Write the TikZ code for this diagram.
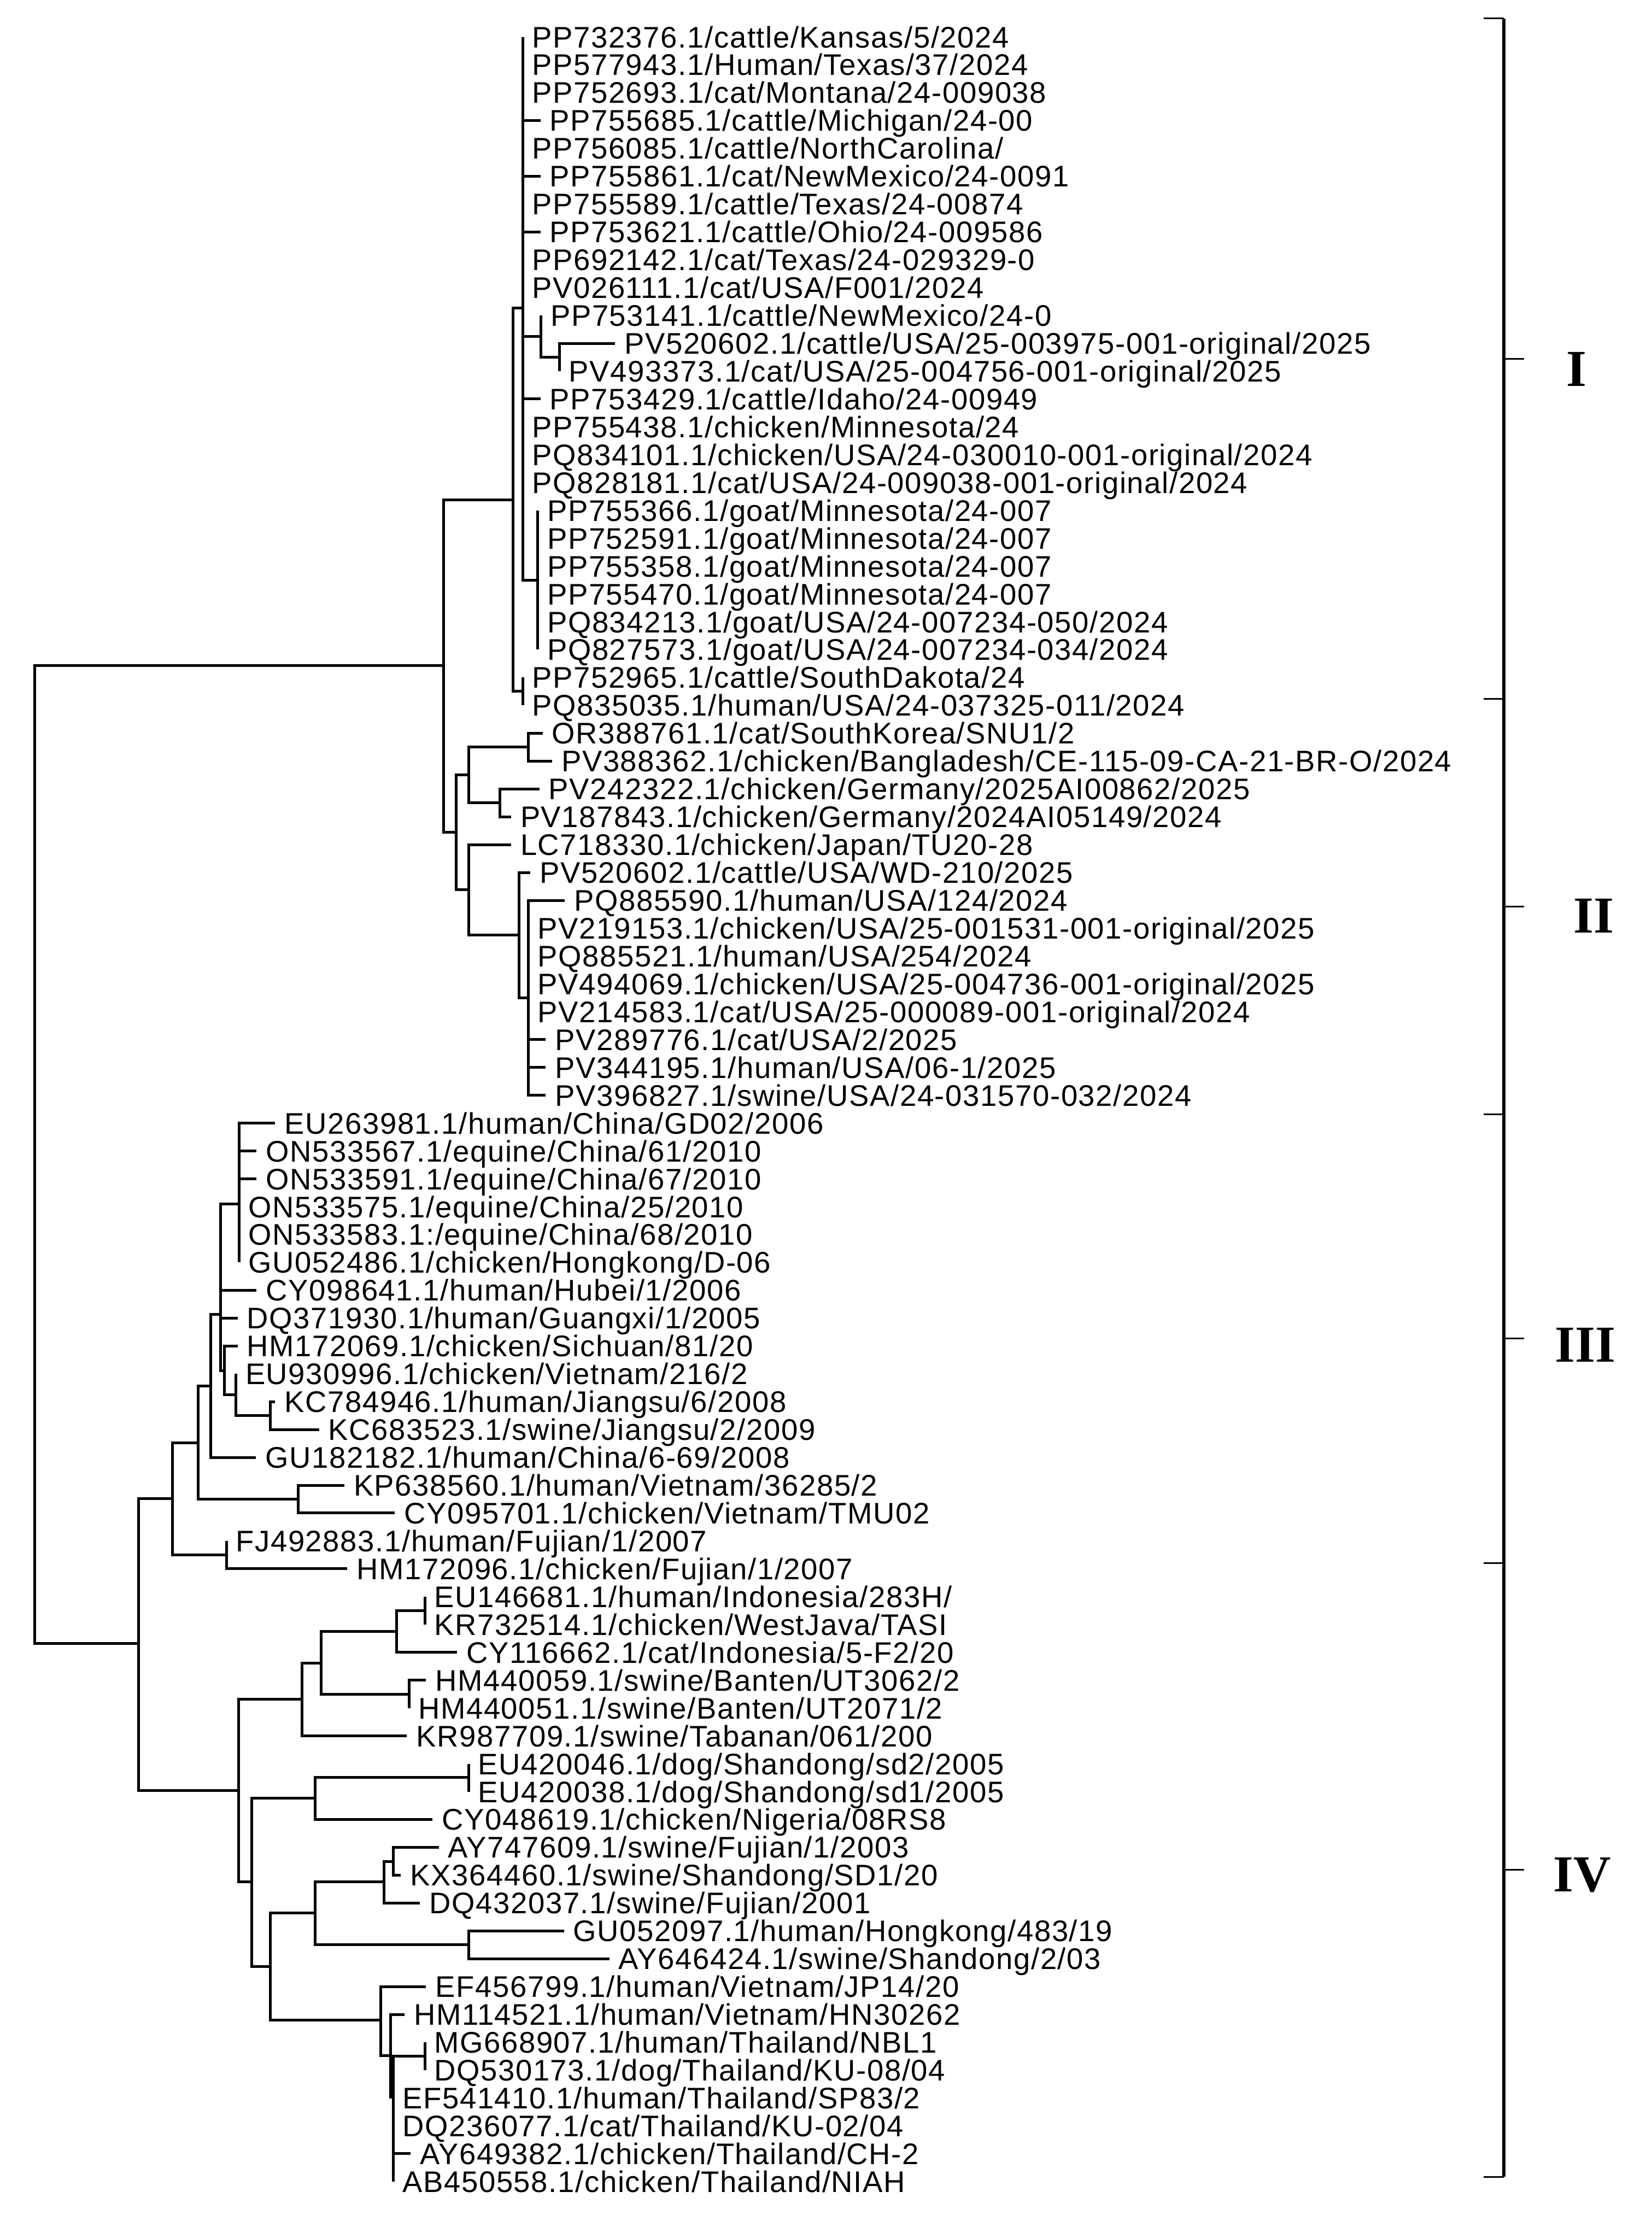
\documentclass[tikz,border=0pt]{standalone}
\usepackage{fontspec}
\usetikzlibrary{calc}
\setmainfont{Liberation Serif}
\newfontfamily\labfont[LetterSpace=3]{Liberation Sans}

\begin{document}
\begin{tikzpicture}[x=0.25985mm,y=-0.25985mm,
    br/.style={line width=0.5mm},
    tick/.style={line width=0.3mm},
    lab/.style={anchor=base west,inner sep=0pt,xshift=1.65mm,yshift=-1.95mm,
      font=\labfont\fontsize{15.5}{18}\selectfont},
    clade/.style={inner sep=0pt,font=\fontsize{27}{30}\selectfont\bfseries}]
    \useasboundingbox (0,0) rectangle (1163,1568);
    \coordinate (root) at (24.5,812.8);
    \coordinate (A) at (312.4,468.5);
    \coordinate (X) at (361.2,352);
    \coordinate (P1) at (368,217);
    \coordinate (PP) at (368,486.8);
    \coordinate (Q) at (381,236.9);
    \coordinate (R) at (394,251.5);
    \coordinate (G) at (378.7,408.4);
    \coordinate (B) at (321.3,585.8);
    \coordinate (C) at (330,545.7);
    \coordinate (C1) at (372,526.1);
    \coordinate (C2) at (352,565.3);
    \coordinate (D) at (330,626.5);
    \coordinate (D2) at (365.6,658.5);
    \coordinate (D3) at (372,702.6);
    \coordinate (E) at (97.6,1157);
    \coordinate (F) at (121.5,1055.3);
    \coordinate (F1) at (139.5,1015.8);
    \coordinate (F2) at (159.4,1094.8);
    \coordinate (F3) at (148.3,975.7);
    \coordinate (F4) at (210,1055.5);
    \coordinate (I) at (155.2,925.3);
    \coordinate (H) at (168.2,847.7);
    \coordinate (L) at (157.9,964.9);
    \coordinate (J) at (166.2,982);
    \coordinate (K) at (190.2,996.7);
    \coordinate (M) at (168,1260.5);
    \coordinate (M1) at (212.7,1196.5);
    \coordinate (M2) at (226.1,1170.8);
    \coordinate (M3) at (279.4,1148.7);
    \coordinate (M4) at (299.1,1134);
    \coordinate (M5) at (287.9,1192.8);
    \coordinate (M6) at (177.1,1325);
    \coordinate (M7) at (221.8,1266);
    \coordinate (M8) at (330,1251.6);
    \coordinate (M9) at (190.3,1384.7);
    \coordinate (M10) at (221.8,1347);
    \coordinate (M11) at (270.2,1325);
    \coordinate (M12) at (276.8,1310.5);
    \coordinate (M13) at (330,1369.3);
    \coordinate (M14) at (268.2,1422.3);
    \coordinate (N) at (275,1447.3);
    \coordinate (O) at (276.8,1476.5);
    \coordinate (M16) at (299.1,1447.7);
    \foreach \p/\c in {root/A,root/E,A/X,A/B,X/P1,X/PP,P1/Q,P1/G,Q/R,
        B/C,B/D,C/C1,C/C2,D/D2,D2/D3,E/F,E/M,F/F1,F/F2,F1/F3,F1/F4,
        F3/I,I/H,I/L,L/J,J/K,M/M1,M/M6,M1/M2,M2/M3,M2/M5,M3/M4,
        M6/M7,M6/M9,M7/M8,M9/M10,M9/M14,M10/M11,M10/M13,M11/M12,
        M14/N,N/O,O/M16}
      \draw[br] (\p) |- (\c);
    \foreach \i/\p/\x/\t in {
        1/P1/368/{PP732376.1/cattle/Kansas/5/2024},
        2/P1/368/{PP577943.1/Human/Texas/37/2024},
        3/P1/368/{PP752693.1/cat/Montana/24-009038},
        4/P1/380.5/{PP755685.1/cattle/Michigan/24-00},
        5/P1/368/{PP756085.1/cattle/NorthCarolina/},
        6/P1/380.5/{PP755861.1/cat/NewMexico/24-0091},
        7/P1/368/{PP755589.1/cattle/Texas/24-00874},
        8/P1/380.5/{PP753621.1/cattle/Ohio/24-009586},
        9/P1/368/{PP692142.1/cat/Texas/24-029329-0},
        10/P1/368/{PV026111.1/cat/USA/F001/2024},
        11/Q/381/{PP753141.1/cattle/NewMexico/24-0},
        12/R/433/{PV520602.1/cattle/USA/25-003975-001-original/2025},
        13/R/394/{PV493373.1/cat/USA/25-004756-001-original/2025},
        14/P1/380.5/{PP753429.1/cattle/Idaho/24-00949},
        15/P1/368/{PP755438.1/chicken/Minnesota/24},
        16/P1/368/{PQ834101.1/chicken/USA/24-030010-001-original/2024},
        17/P1/368/{PQ828181.1/cat/USA/24-009038-001-original/2024},
        18/G/378.7/{PP755366.1/goat/Minnesota/24-007},
        19/G/378.7/{PP752591.1/goat/Minnesota/24-007},
        20/G/378.7/{PP755358.1/goat/Minnesota/24-007},
        21/G/378.7/{PP755470.1/goat/Minnesota/24-007},
        22/G/378.7/{PQ834213.1/goat/USA/24-007234-050/2024},
        23/G/378.7/{PQ827573.1/goat/USA/24-007234-034/2024},
        24/PP/368/{PP752965.1/cattle/SouthDakota/24},
        25/PP/368/{PQ835035.1/human/USA/24-037325-011/2024},
        26/C1/382/{OR388761.1/cat/SouthKorea/SNU1/2},
        27/C1/388.7/{PV388362.1/chicken/Bangladesh/CE-115-09-CA-21-BR-O/2024},
        28/C2/379.7/{PV242322.1/chicken/Germany/2025AI00862/2025},
        29/C2/359.8/{PV187843.1/chicken/Germany/2024AI05149/2024},
        30/D/359.8/{LC718330.1/chicken/Japan/TU20-28},
        31/D2/373.3/{PV520602.1/cattle/USA/WD-210/2025},
        32/D3/397.6/{PQ885590.1/human/USA/124/2024},
        33/D3/372/{PV219153.1/chicken/USA/25-001531-001-original/2025},
        34/D3/372/{PQ885521.1/human/USA/254/2024},
        35/D3/372/{PV494069.1/chicken/USA/25-004736-001-original/2025},
        36/D3/372/{PV214583.1/cat/USA/25-000089-001-original/2024},
        37/D3/384.2/{PV289776.1/cat/USA/2/2025},
        38/D3/384.2/{PV344195.1/human/USA/06-1/2025},
        39/D3/384.2/{PV396827.1/swine/USA/24-031570-032/2024},
        40/H/193.7/{EU263981.1/human/China/GD02/2006},
        41/H/180.6/{ON533567.1/equine/China/61/2010},
        42/H/180.6/{ON533591.1/equine/China/67/2010},
        43/H/168.2/{ON533575.1/equine/China/25/2010},
        44/H/168.2/{ON533583.1:/equine/China/68/2010},
        45/H/168.2/{GU052486.1/chicken/Hongkong/D-06},
        46/I/180.6/{CY098641.1/human/Hubei/1/2006},
        47/I/167.3/{DQ371930.1/human/Guangxi/1/2005},
        48/L/167.3/{HM172069.1/chicken/Sichuan/81/20},
        49/J/166.2/{EU930996.1/chicken/Vietnam/216/2},
        50/K/193.7/{KC784946.1/human/Jiangsu/6/2008},
        51/K/224.6/{KC683523.1/swine/Jiangsu/2/2009},
        52/F3/180.3/{GU182182.1/human/China/6-69/2008},
        53/F4/242.4/{KP638560.1/human/Vietnam/36285/2},
        54/F4/278/{CY095701.1/chicken/Vietnam/TMU02},
        55/F2/159.4/{FJ492883.1/human/Fujian/1/2007},
        56/F2/244.5/{HM172096.1/chicken/Fujian/1/2007},
        57/M4/299.1/{EU146681.1/human/Indonesia/283H/},
        58/M4/299.1/{KR732514.1/chicken/WestJava/TASI},
        59/M3/321.8/{CY116662.1/cat/Indonesia/5-F2/20},
        60/M5/300/{HM440059.1/swine/Banten/UT3062/2},
        61/M5/287.9/{HM440051.1/swine/Banten/UT2071/2},
        62/M1/286.5/{KR987709.1/swine/Tabanan/061/200},
        63/M8/330/{EU420046.1/dog/Shandong/sd2/2005},
        64/M8/330/{EU420038.1/dog/Shandong/sd1/2005},
        65/M7/304.6/{CY048619.1/chicken/Nigeria/08RS8},
        66/M12/308.9/{AY747609.1/swine/Fujian/1/2003},
        67/M12/282.3/{KX364460.1/swine/Shandong/SD1/20},
        68/M11/295.7/{DQ432037.1/swine/Fujian/2001},
        69/M13/397/{GU052097.1/human/Hongkong/483/19},
        70/M13/429/{AY646424.1/swine/Shandong/2/03},
        71/M14/300/{EF456799.1/human/Vietnam/JP14/20},
        72/N/284.8/{HM114521.1/human/Vietnam/HN30262},
        73/M16/299.1/{MG668907.1/human/Thailand/NBL1},
        74/M16/299.1/{DQ530173.1/dog/Thailand/KU-08/04},
        75/O/276.8/{EF541410.1/human/Thailand/SP83/2},
        76/O/276.8/{DQ236077.1/cat/Thailand/KU-02/04},
        77/O/289.1/{AY649382.1/chicken/Thailand/CH-2},
        78/O/276.8/{AB450558.1/chicken/Thailand/NIAH}} {
      \coordinate (l\i) at (\x,{26+(\i-1)*19.61});
      \draw[br] (\p) |- (l\i);
      \node[lab] (t\i) at (l\i) {\t};
    }
    \coordinate (b0) at (1058.7,13);
    \coordinate (b1) at (1058.7,492);
    \coordinate (b2) at (1058.7,784.5);
    \coordinate (b3) at (1058.7,1100.4);
    \coordinate (b4) at (1058.7,1532.6);
    \draw[line width=0.55mm] (b0) -- (b4);
    \foreach \b in {b0,b1,b2,b3,b4}
      \draw[tick] (\b) -- ++(-14.2,0);
    \foreach \a/\b/\n/\t/\cx/\cy in {b0/b1/cI/I/1110/260,b1/b2/cII/II/1122/645,
        b2/b3/cIII/III/1116/947,b3/b4/cIV/IV/1114/1320} {
      \draw[tick] ($(\a)!0.5!(\b)$) -- ++(14.3,0);
      \node[clade] (\n) at (\cx,\cy) {\t};
    }
\end{tikzpicture}
\end{document}
